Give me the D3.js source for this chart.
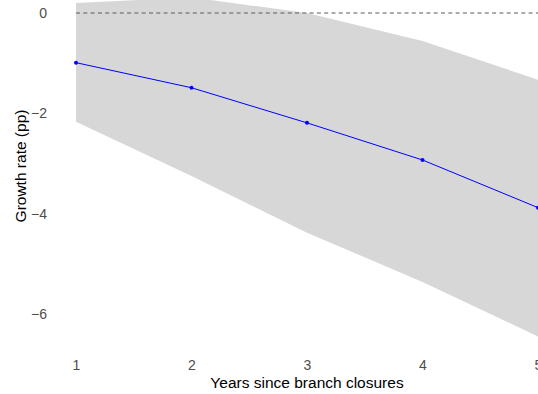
<!DOCTYPE html>
<html>
<head>
<meta charset="utf-8">
<script src="https://cdn.jsdelivr.net/npm/d3@7"></script>
<style>
  body { margin: 0; background: #fff; }
  text { font-family: "Liberation Sans", Arial, sans-serif; }
</style>
</head>
<body>
<script>
var years = [1, 2, 3, 4, 5];
var estimate = [-0.99, -1.49, -2.19, -2.93, -3.88];
var upper = [0.2, 0.31, 0.0, -0.56, -1.33];
var lower = [-2.17, -3.25, -4.38, -5.36, -6.45];
var yTicks = [0, -2, -4, -6];

var width = 538, height = 394;
var svg = d3.select("body").append("svg")
    .attr("width", width)
    .attr("height", height);

var x = d3.scaleLinear().domain([1, 5]).range([76, 538]);
var y = d3.scaleLinear().domain([0, -6]).range([13, 314]);

var rows = years.map(function(d, i) {
  return {year: d, est: estimate[i], hi: upper[i], lo: lower[i]};
});

svg.append("clipPath").attr("id", "panel")
  .append("rect").attr("x", 0).attr("y", 0).attr("width", width).attr("height", 345);

var plot = svg.append("g").attr("clip-path", "url(#panel)");

var area = d3.area()
    .x(function(d) { return x(d.year); })
    .y0(function(d) { return y(d.lo); })
    .y1(function(d) { return y(d.hi); });

plot.append("path")
    .datum(rows)
    .attr("fill", "#d7d7d7")
    .attr("d", area);

plot.append("line")
    .attr("x1", x(1)).attr("x2", x(5))
    .attr("y1", y(0)).attr("y2", y(0))
    .attr("stroke", "#5a5a5a")
    .attr("stroke-width", 1.1)
    .attr("stroke-dasharray", "4,3.3");

var line = d3.line()
    .x(function(d) { return x(d.year); })
    .y(function(d) { return y(d.est); });

plot.append("path")
    .datum(rows)
    .attr("fill", "none")
    .attr("stroke", "#0000ff")
    .attr("stroke-width", 1)
    .attr("d", line);

plot.selectAll("circle")
    .data(rows)
  .enter().append("circle")
    .attr("cx", function(d) { return x(d.year); })
    .attr("cy", function(d) { return y(d.est); })
    .attr("r", 2)
    .attr("fill", "#0000ff");

// axes: ggplot-like, no lines, grey labels
var yAxis = svg.append("g")
    .attr("transform", "translate(" + 51 + ",0)")
    .call(d3.axisLeft(y).tickValues(yTicks).tickSize(0).tickPadding(4)
      .tickFormat(function(d) { return d < 0 ? "\u2212" + Math.abs(d) : d; }));
yAxis.select(".domain").remove();
yAxis.selectAll("text").attr("fill", "#4d4d4d").style("font-size", "14px");

var xAxis = svg.append("g")
    .attr("transform", "translate(0," + 356 + ")")
    .call(d3.axisBottom(x).tickValues(years).tickSize(0).tickPadding(4)
      .tickFormat(d3.format("d")));
xAxis.select(".domain").remove();
xAxis.selectAll("text").attr("fill", "#4d4d4d").style("font-size", "14px");

svg.append("text")
    .attr("x", x(3))
    .attr("y", 388)
    .attr("text-anchor", "middle")
    .style("font-size", "15.5px")
    .text("Years since branch closures");

svg.append("text")
    .attr("transform", "translate(26," + 166 + ") rotate(-90)")
    .attr("text-anchor", "middle")
    .style("font-size", "15.5px")
    .text("Growth rate (pp)");
</script>
</body>
</html>
